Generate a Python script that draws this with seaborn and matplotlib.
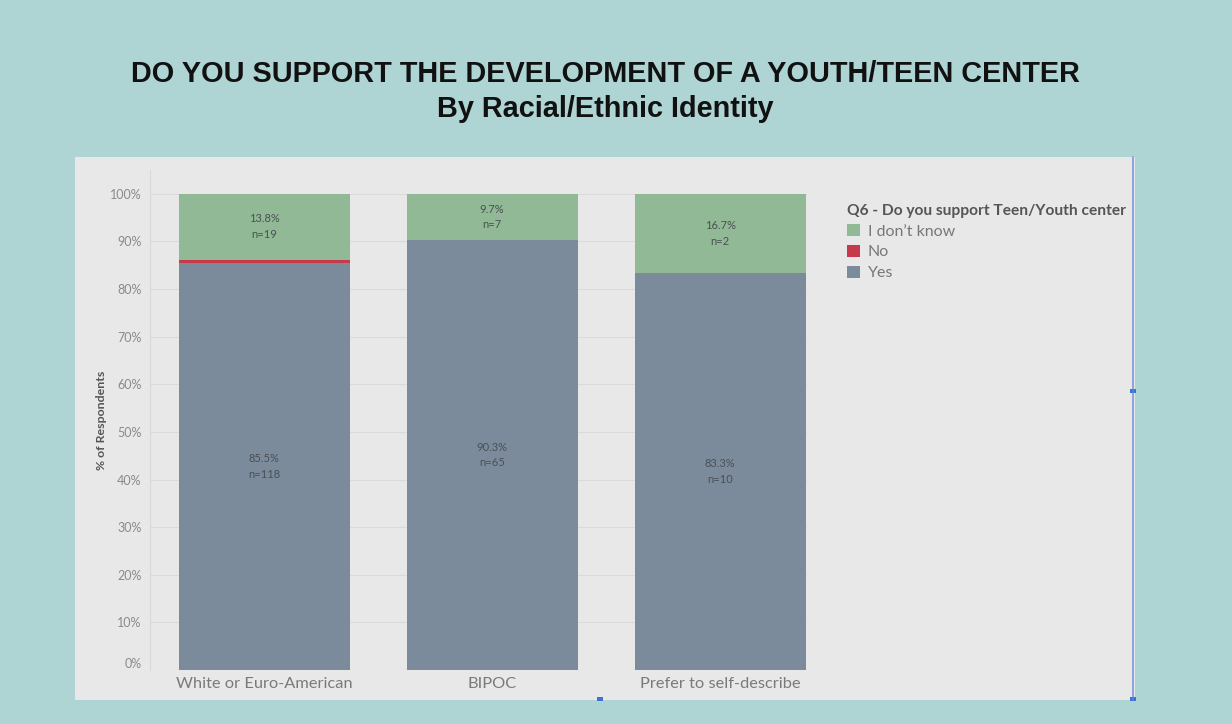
import matplotlib
matplotlib.use("Agg")
import matplotlib.pyplot as plt
from matplotlib.patches import Patch, Rectangle
from matplotlib.lines import Line2D
import seaborn as sns
import numpy as np

# Survey results by racial/ethnic identity
categories = ["White or Euro-American", "BIPOC", "Prefer to self-describe"]
yes_pct = [85.5, 90.3, 83.3]
no_pct = [0.7, 0.0, 0.0]
dont_know_pct = [13.8, 9.7, 16.7]
yes_n = [118, 65, 10]
dont_know_n = [19, 7, 2]
responses = ["I don\u2019t know", "No", "Yes"]
y_ticks = [0, 10, 20, 30, 40, 50, 60, 70, 80, 90, 100]

sns.set_theme(style="white")
plt.rcParams["font.family"] = ["Lato", "DejaVu Sans"]

col_yes = "#7b8b9b"
col_no = "#c73a4b"
col_idk = "#92b995"
teal = "#aed4d3"
panel = "#e8e8e8"
tick_gray = "#8a8a8a"

fig = plt.figure(figsize=(12.32, 7.24), dpi=100)
fig.patch.set_facecolor(teal)

# light panel behind the chart
fig.add_artist(Rectangle((75 / 1232, 24 / 724), 1060 / 1232, 543 / 724,
                         transform=fig.transFigure, facecolor=panel,
                         edgecolor="none", zorder=0))
# selection frame on the right edge
fig.add_artist(Line2D([1133 / 1232, 1133 / 1232], [24 / 724, 567 / 724],
                      transform=fig.transFigure, color="#5b86d6", lw=1.2, alpha=0.8))
for (hx, hy) in [(1133, 391), (1133, 699), (600, 699)]:
    fig.add_artist(Rectangle(((hx - 3) / 1232, (724 - hy - 2) / 724), 6 / 1232, 4 / 724,
                             transform=fig.transFigure, facecolor="#3b73d6",
                             edgecolor="none"))

fig.text(605 / 1232, 1 - 74 / 724, "DO YOU SUPPORT THE DEVELOPMENT OF A YOUTH/TEEN CENTER",
         ha="center", va="center", fontsize=20.8, fontweight="bold",
         family=["Liberation Sans", "DejaVu Sans"], color="#111111")
fig.text(605 / 1232, 1 - 109 / 724, "By Racial/Ethnic Identity",
         ha="center", va="center", fontsize=20.8, fontweight="bold",
         family=["Liberation Sans", "DejaVu Sans"], color="#111111")

ax = fig.add_axes([150 / 1232, 54 / 724, (807 - 150) / 1232, 500 / 724])
ax.set_facecolor(panel)

yes_arr = np.array(yes_pct)
no_arr = np.array(no_pct)
idk_arr = np.array(dont_know_pct)

sns.barplot(x=categories, y=yes_arr, color=col_yes, width=0.75, ax=ax,
            saturation=1, zorder=3, linewidth=0, edgecolor="none")
sns.barplot(x=categories, y=no_arr, bottom=yes_arr, color=col_no, width=0.75, ax=ax,
            saturation=1, zorder=3, linewidth=0, edgecolor="none")
sns.barplot(x=categories, y=idk_arr, bottom=yes_arr + no_arr, color=col_idk, width=0.75,
            ax=ax, saturation=1, zorder=3, linewidth=0, edgecolor="none")

for i in range(len(categories)):
    ax.text(i, yes_pct[i] / 2, f"{yes_pct[i]}%\nn={yes_n[i]}", ha="center", va="center",
            fontsize=8, color="#4a4f55", linespacing=1.5, zorder=4)
    top_mid = yes_pct[i] + no_pct[i] + dont_know_pct[i] / 2
    ax.text(i, top_mid, f"{dont_know_pct[i]}%\nn={dont_know_n[i]}", ha="center",
            va="center", fontsize=8, color="#4a4f55", linespacing=1.5, zorder=4)

ax.set_xlim(-0.5, 2.38)
ax.set_ylim(0, 105)
ax.set_yticks(y_ticks)
ax.set_yticklabels([f"{t}%" for t in y_ticks])
ax.yaxis.grid(True, color="#dadada", lw=0.8, zorder=0)
ax.xaxis.grid(False)
ax.tick_params(axis="y", labelsize=9, labelcolor=tick_gray, length=0, pad=6)
ax.tick_params(axis="x", labelsize=11.8, labelcolor="#7a7a7a", length=0, pad=5)
ylabs = ax.get_yticklabels()
ylabs[0].set_va("bottom")
for s in ["top", "right", "bottom"]:
    ax.spines[s].set_visible(False)
ax.spines["left"].set_color("#d8d8d8")
ax.spines["left"].set_linewidth(0.8)
ax.set_xlabel("")
ax.set_ylabel("% of Respondents", fontsize=8.9, fontweight="bold", color="#555555",
              labelpad=2)

handles = [Patch(facecolor=col_idk, edgecolor="none"),
           Patch(facecolor=col_no, edgecolor="none"),
           Patch(facecolor=col_yes, edgecolor="none")]
leg = fig.legend(handles, responses, title="Q6 - Do you support Teen/Youth center",
                 loc="upper left", bbox_to_anchor=(847 / 1232, 1 - 204 / 724),
                 frameon=False, fontsize=11.5, handlelength=0.8, handleheight=0.8,
                 handletextpad=0.5, labelspacing=0.38, borderpad=0, borderaxespad=0)
leg.get_title().set_fontweight("bold")
leg.get_title().set_fontsize(11.2)
leg.get_title().set_color("#555555")
leg._legend_box.align = "left"
for t in leg.get_texts():
    t.set_color("#777777")

fig.savefig("out.png", dpi=100, facecolor=teal)
